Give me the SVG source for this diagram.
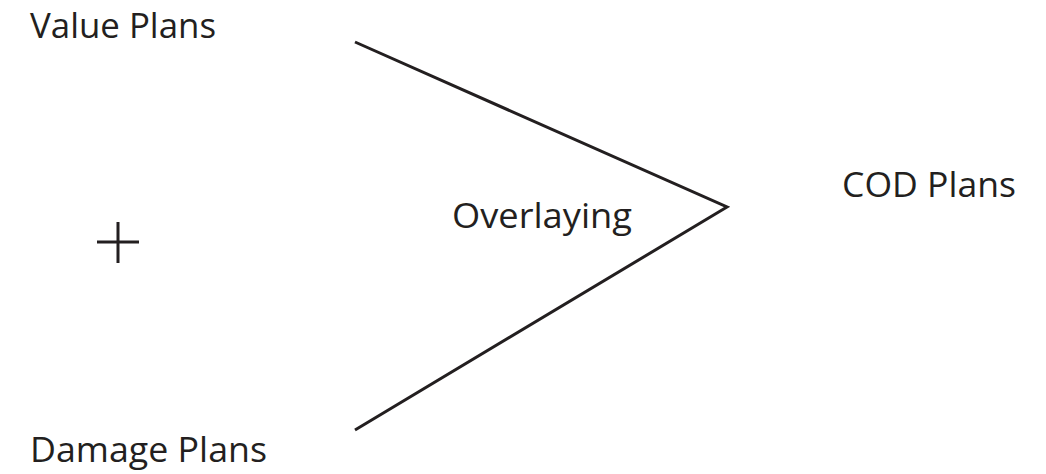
<svg xmlns="http://www.w3.org/2000/svg" width="1046" height="474" viewBox="0 0 1046 474">
<style>
.t{font-family:"Open Sans","Noto Sans",sans-serif;font-size:35.5px;fill:#231f20}
.c{stroke:#231f20;stroke-width:3;fill:none}
</style>
<rect width="1046" height="474" fill="#fff"/>
<g id="value"><text class="t" x="30" y="38" textLength="186" lengthAdjust="spacingAndGlyphs">Value Plans</text></g>
<g id="plus"><path class="c" d="M97 242H139M118 222V263"/></g>
<g id="damage"><text class="t" x="30" y="462" textLength="237" lengthAdjust="spacingAndGlyphs">Damage Plans</text></g>
<g id="overlaying"><text class="t" x="452" y="228" textLength="180" lengthAdjust="spacingAndGlyphs">Overlaying</text></g>
<g id="cod"><text class="t" x="842" y="197" textLength="174" lengthAdjust="spacingAndGlyphs">COD Plans</text></g>
<g id="connectors"><path class="c" d="M355 42L727 207L355 430"/></g>
</svg>
